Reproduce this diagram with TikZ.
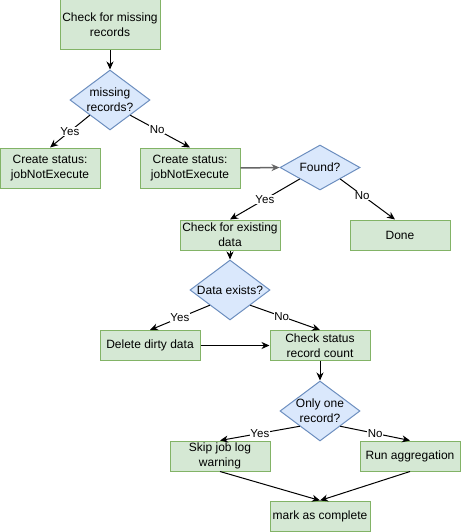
\documentclass[tikz,border=0pt]{standalone}
\usepackage{fontspec}
\setmainfont{Liberation Sans}
\usetikzlibrary{shapes.geometric,arrows.meta}
\definecolor{gfill}{HTML}{D5E8D4}
\definecolor{gdraw}{HTML}{82B366}
\definecolor{bfill}{HTML}{DAE8FC}
\definecolor{bdraw}{HTML}{6C8EBF}
\begin{document}
\begin{tikzpicture}[x=1pt,y=-1pt,
 box/.style={draw=gdraw,fill=gfill,line width=1pt,minimum width=100pt,minimum height=#1,inner sep=0pt,align=center,font=\fontsize{12}{15}\selectfont},
 box/.default=30pt,
 dia/.style={draw=bdraw,fill=bfill,line width=1pt,diamond,minimum width=80pt,minimum height=#1,inner sep=0pt},
 dia/.default=60pt,
 dtext/.style={align=center,font=\fontsize{12}{15}\selectfont,inner sep=0pt},
 conn/.style={line width=1pt,-{Stealth[length=8pt,width=7pt,inset=2.5pt]}},
 thick conn/.style={line width=1.5pt,draw=black!60,-{Stealth[length=8pt,width=7pt,inset=2.5pt,fill=black]}},
 lbl/.style={fill=white,inner sep=0.5pt,font=\fontsize{11.5}{13}\selectfont}]
\useasboundingbox (0,0) rectangle (461,532);
\node[box=50pt] (b1) at (110,25) {Check for missing\\records};
\node[dia] (d1) at (110,100) {};
\node[dtext] (t1) at (d1.center) {missing\\records?};
\node[box=40pt] (c1) at (50,168) {Create status:\\jobNotExecute};
\node[box=40pt] (c2) at (190,168) {Create status:\\jobNotExecute};
\node[dia=45pt] (d2) at (320,167.5) {};
\node[dtext] (t2) at (d2.center) {Found?};
\node[box] (e1) at (230,235) {Check for existing\\data};
\node[box] (done) at (400,235) {Done};
\node[dia] (d3) at (230,290) {};
\node[dtext] (t3) at (d3.center) {Data exists?};
\node[box] (del) at (150,345.5) {Delete dirty data};
\node[box] (cs) at (320,345.5) {Check status\\record count};
\node[dia] (d4) at (320,411) {};
\node[dtext] (t4) at (d4.center) {Only one\\record?};
\node[box] (skip) at (220,456) {Skip job log\\warning};
\node[box] (run) at (410,456) {Run aggregation};
\node[box] (mark) at (320,516) {mark as complete};
\draw[conn] (b1.south) -- (d1.north);
\draw[conn] (d1.south west) -- node[lbl]{Yes} (c1.north);
\draw[conn] (d1.south east) -- node[lbl,pos=0.45]{No} (c2.north);
\draw[thick conn] (c2.east) -- (d2.west);
\draw[conn] (d2.south west) -- node[lbl]{Yes} (e1.north);
\draw[conn] (d2.south east) -- node[lbl,pos=0.4]{No} ([xshift=-5pt]done.north);
\draw[conn] (e1.south) -- (d3.north);
\draw[conn] (d3.south west) -- node[lbl]{Yes} (del.north);
\draw[conn] (d3.south east) -- node[lbl,pos=0.45]{No} (cs.north);
\draw[conn] (del.east) -- (cs.west);
\draw[conn] (cs.south) -- (d4.north);
\draw[conn] (d4.south west) -- node[lbl]{Yes} (skip.north);
\draw[conn] (d4.south east) -- node[lbl]{No} (run.north);
\draw[conn] (skip.south) -- (mark.north);
\draw[conn] (run.south) -- (mark.north);
\end{tikzpicture}
\end{document}
